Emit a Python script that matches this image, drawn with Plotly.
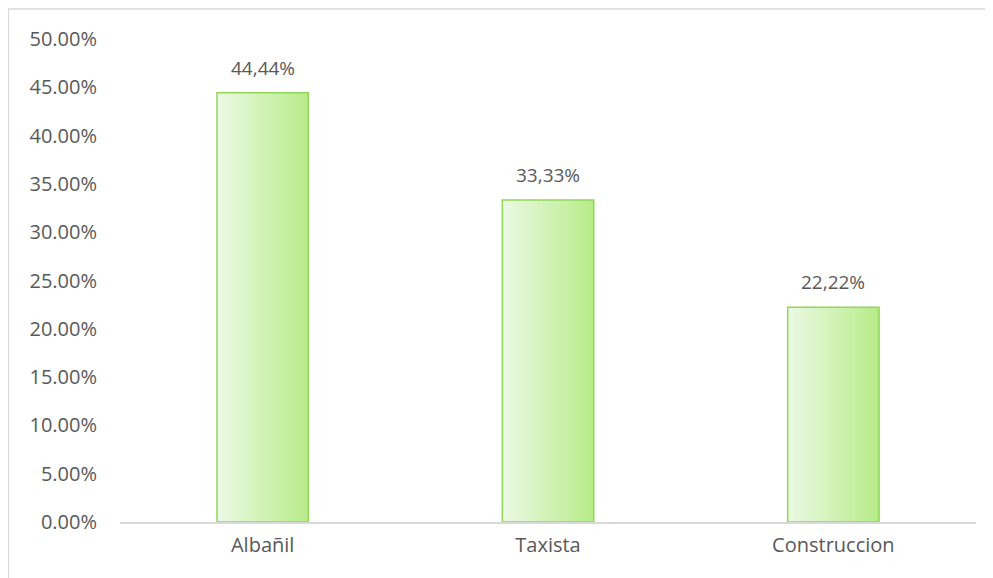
import plotly.graph_objects as go

categories = ["Albañil", "Taxista", "Construccion"]
values = [0.4444, 0.3333, 0.2222]
label_texts = ["44,44%", "33,33%", "22,22%"]
tick_vals = [0.0, 0.05, 0.10, 0.15, 0.20, 0.25, 0.30, 0.35, 0.40, 0.45, 0.50]

FONT = "Open Sans"
TXT = "#595959"
BAR_W = 0.32
N_SLICES = 30
c_left = (234, 249, 226)
c_right = (184, 236, 138)

fig = go.Figure()

# gradient fill built from thin slices of the same bars
for k in range(N_SLICES):
    t = k / (N_SLICES - 1)
    col = tuple(round(c_left[i] + (c_right[i] - c_left[i]) * t) for i in range(3))
    fig.add_trace(go.Bar(
        x=categories, y=values,
        width=BAR_W / N_SLICES + 0.002,
        offset=-BAR_W / 2 + k * BAR_W / N_SLICES,
        marker=dict(color="rgb(%d,%d,%d)" % col, line=dict(width=0)),
        hoverinfo="skip", showlegend=False,
    ))

# outline
fig.add_trace(go.Bar(
    x=categories, y=values, width=BAR_W, offset=-BAR_W / 2,
    marker=dict(color="rgba(0,0,0,0)", line=dict(color="#92d65a", width=1.5)),
    showlegend=False,
))

for c, v, t in zip(categories, values, label_texts):
    fig.add_annotation(x=c, y=v, text=t, showarrow=False, yanchor="bottom",
                       yshift=10, font=dict(family=FONT, size=19, color=TXT))

# page body adds an 8px offset; compensate in margins
W, H = 993, 578
ml, mr, mt, mb = 112, 25, 31, 64
pw, ph = W - ml - mr, H - mt - mb
fig.add_shape(type="rect", xref="paper", yref="paper",
              x0=(0.5 - ml) / pw, x1=1 + (mr + 20) / pw,
              y0=-(mb + 20) / ph, y1=1 + (mt - 1) / ph,
              line=dict(color="#d9d9d9", width=1.3), fillcolor="rgba(0,0,0,0)",
              layer="below")

fig.update_layout(
    width=W, height=H,
    margin=dict(l=ml, r=mr, t=mt, b=mb),
    barmode="overlay",
    plot_bgcolor="white", paper_bgcolor="white",
    font=dict(family=FONT, size=20, color=TXT),
    xaxis=dict(showline=True, linecolor="#d9d9d9", linewidth=1.5,
               ticks="", showgrid=False, ticklabelstandoff=4,
               tickfont=dict(size=20, color=TXT)),
    yaxis=dict(range=[0, 0.5], tickvals=tick_vals, tickformat=".2%",
               showgrid=False, zeroline=False, showline=False, ticks="",
               ticklabelstandoff=22, tickfont=dict(size=20, color=TXT)),
)

fig.write_html("out.html")
